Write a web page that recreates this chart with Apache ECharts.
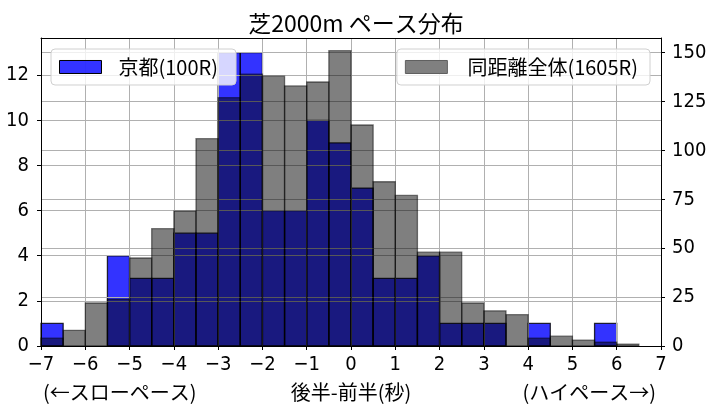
<!DOCTYPE html>
<html>
<head>
<meta charset="utf-8">
<script src="https://cdn.jsdelivr.net/npm/echarts@6/dist/echarts.min.js"></script>
<style>
html,body{margin:0;padding:0;background:#fff;}
#chart{width:711px;height:411px;}
</style>
</head>
<body>
<div id="chart"></div>
<script>
// bin edges (width 0.5) from -7 to 6.5
const binStarts = [-7,-6.5,-6,-5.5,-5,-4.5,-4,-3.5,-3,-2.5,-2,-1.5,-1,-0.5,0,0.5,1,1.5,2,2.5,3,3.5,4,4.5,5,5.5,6];
const binWidth = 0.5;
// 京都 (100R) counts - left axis
const kyotoCounts = [1,0,0,4,3,3,5,5,13,13,6,6,10,9,7,3,3,4,1,1,1,0,1,0,0,1,0];
// 同距離全体 (1605R) counts - right axis
const allCounts = [4,8,22,24,45,60,69,106,127,139,138,133,135,151,113,84,77,48,48,22,18,16,4,5,3,2,1];
const leftTicks = {min:0, max:13.65, interval:2};
const rightTicks = {min:0, max:157.5, interval:25};
const xTicks = {min:-7, max:7, interval:1};
const titleText = '芝2000m ペース分布';
const kyotoName = '京都(100R)';
const allName = '同距離全体(1605R)';
const xName = '後半-前半(秒)';
const slowText = '(←スローペース)';
const highText = '(ハイペース→)';

const FONT = '"Noto Sans CJK JP", "Noto Sans", sans-serif';
const NUMFONT = '"Liberation Sans Narrow", "Arial Narrow", "DejaVu Sans Condensed", "Noto Sans CJK JP", sans-serif';
const kyotoData = binStarts.map((s,i)=>[s, s+binWidth, kyotoCounts[i]]);
const allData = binStarts.map((s,i)=>[s, s+binWidth, allCounts[i]]);

function makeRender(fill, stroke){
  return function(params, api){
    const x0 = api.value(0), x1 = api.value(1), v = api.value(2);
    if (!v) return null;
    const p0 = api.coord([x0, v]);
    const p1 = api.coord([x1, 0]);
    return {
      type:'rect',
      shape:{x:p0[0], y:p0[1], width:p1[0]-p0[0], height:p1[1]-p0[1]},
      style:{fill:fill, stroke:stroke, lineWidth:1.3}
    };
  };
}

const chart = echarts.init(document.getElementById('chart'), null, {renderer:'canvas'});
const tickLabel = {fontFamily:NUMFONT, fontSize:20, color:'#000'};
chart.setOption({
  animation:false,
  backgroundColor:'#fff',
  textStyle:{fontFamily:FONT},
  title:{
    text:titleText, left:351, textAlign:'center', top:7,
    textStyle:{fontFamily:FONT, fontSize:23, fontWeight:'normal', color:'#000'}
  },
  grid:{left:41, right:50, top:38, bottom:65},
  legend:[
    {
      left:51, top:49, orient:'vertical',
      data:[{name:kyotoName, icon:'rect', itemStyle:{color:'rgba(0,0,255,0.8)', borderColor:'#000', borderWidth:1}}],
      itemWidth:42, itemHeight:13,
      padding:[8,18,8,8],
      backgroundColor:'rgba(255,255,255,0.8)', borderColor:'#d0d0d0', borderWidth:1, borderRadius:4,
      textStyle:{fontFamily:FONT, fontSize:20, color:'#000', padding:[0,0,0,12]},
      selectedMode:false, z:10
    },
    {
      right:61, top:49, orient:'vertical',
      data:[{name:allName, icon:'rect', itemStyle:{color:'#808080', borderColor:'#606060', borderWidth:1}}],
      itemWidth:42, itemHeight:13,
      padding:[8,12,8,8],
      backgroundColor:'rgba(255,255,255,0.8)', borderColor:'#d0d0d0', borderWidth:1, borderRadius:4,
      textStyle:{fontFamily:FONT, fontSize:20, color:'#000', padding:[0,0,0,15]},
      selectedMode:false, z:10
    }
  ],
  xAxis:[
    {
      type:'value', min:xTicks.min, max:xTicks.max, interval:xTicks.interval, position:'bottom', z:2,
      name:xName, nameLocation:'middle', nameGap:36,
      nameTextStyle:{fontFamily:FONT, fontSize:20, color:'#000'},
      axisLine:{show:true, onZero:false, lineStyle:{color:'#000', width:1}},
      axisTick:{show:true, length:4, lineStyle:{color:'#000'}},
      axisLabel:Object.assign({margin:9, formatter:v=>String(v).replace('-', '\u2212')}, tickLabel),
      splitLine:{show:true, lineStyle:{color:'#b0b0b0', width:1}}
    },
    {
      type:'value', min:xTicks.min, max:xTicks.max, interval:xTicks.interval, position:'top', z:5,
      axisLine:{show:true, onZero:false, lineStyle:{color:'#000', width:1}},
      axisTick:{show:false}, axisLabel:{show:false}, splitLine:{show:false}
    }
  ],
  yAxis:[
    {
      type:'value', min:leftTicks.min, max:leftTicks.max, interval:leftTicks.interval, position:'left', z:2,
      axisLine:{show:true, onZero:false, lineStyle:{color:'#000', width:1}},
      axisTick:{show:true, length:4, lineStyle:{color:'#000'}},
      axisLabel:Object.assign({margin:12, showMaxLabel:false}, tickLabel),
      splitLine:{show:true, lineStyle:{color:'#b0b0b0', width:1}}
    },
    {
      type:'value', min:rightTicks.min, max:rightTicks.max, interval:rightTicks.interval, position:'right', z:2,
      axisLine:{show:true, onZero:false, lineStyle:{color:'#000', width:1}},
      axisTick:{show:true, length:4, lineStyle:{color:'#000'}},
      axisLabel:Object.assign({margin:11, showMaxLabel:false}, tickLabel),
      splitLine:{show:true, lineStyle:{color:'#b0b0b0', width:1}}
    }
  ],
  graphic:[
    {type:'text', left:43, top:382, z:10,
      style:{text:slowText, font:'20px ' + FONT, fill:'#000'}},
    {type:'text', right:55, top:382, z:10,
      style:{text:highText, font:'20px ' + FONT, fill:'#000'}}
  ],
  series:[
    {
      name:kyotoName, type:'custom', xAxisIndex:0, yAxisIndex:0, z:1,
      renderItem:makeRender('rgba(0,0,255,0.8)', 'rgba(0,0,0,0.8)'),
      encode:{x:[0,1], y:2},
      data:kyotoData
    },
    {
      name:allName, type:'custom', xAxisIndex:0, yAxisIndex:1, z:3,
      renderItem:makeRender('rgba(0,0,0,0.5)', 'rgba(0,0,0,0.5)'),
      encode:{x:[0,1], y:2},
      data:allData
    }
  ]
});
</script>
</body>
</html>
